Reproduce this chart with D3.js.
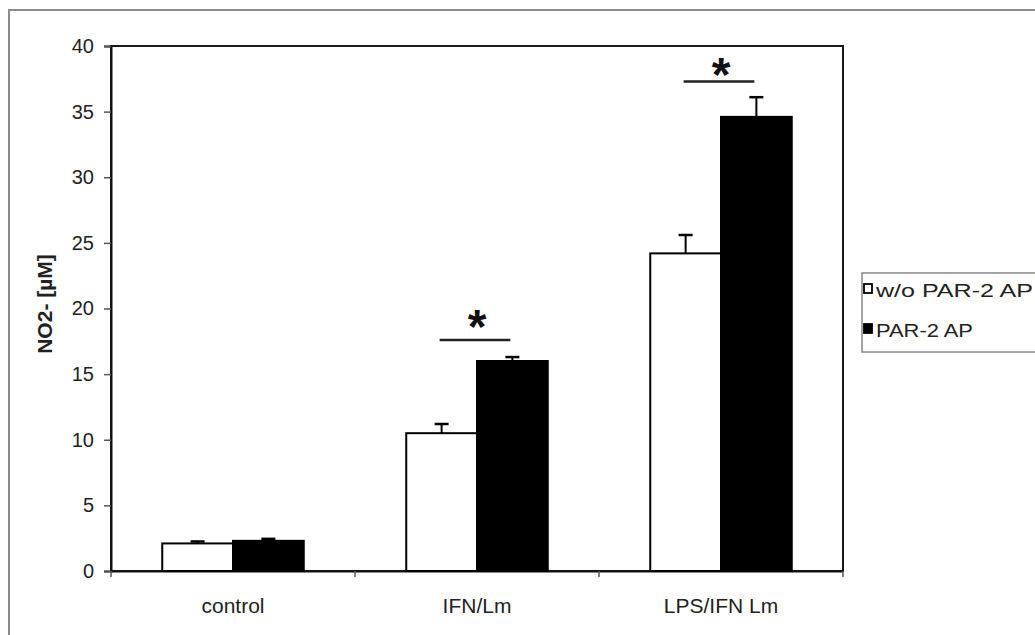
<!DOCTYPE html>
<html><head><meta charset="utf-8">
<script src="https://cdn.jsdelivr.net/npm/d3@7"></script>
<style>body{margin:0;background:#fff}svg{display:block;font-family:"Liberation Sans",Arial,sans-serif}</style>
</head><body>
<script>
const categories = ["control", "IFN/Lm", "LPS/IFN Lm"];
const seriesNames = ["w/o PAR-2 AP", "PAR-2 AP"];
const withoutValues = [2.1, 10.5, 24.2];
const withValues = [2.3, 16.0, 34.6];
const withoutErrors = [0.15, 0.7, 1.4];
const withErrors = [0.15, 0.3, 1.5];
const yTicks = [0, 5, 10, 15, 20, 25, 30, 35, 40];
const sigCategories = ["IFN/Lm", "LPS/IFN Lm"];
const sigLineValues = [17.6, 37.3];
const sigStarValues = [19.4, 38.6];
const sigLabels = ["*", "*"];

const W = 1035, H = 635;
const m = {left: 111, right: 843, top: 46, bottom: 571};
const svg = d3.select("body").append("svg").attr("width", W).attr("height", H);

// outer frame
svg.append("rect").attr("x", 9).attr("y", 10).attr("width", 1100).attr("height", 700)
  .attr("fill", "none").attr("stroke", "#8a8a8a").attr("stroke-width", 2);

const x0 = d3.scaleBand().domain(categories).range([m.left, m.right]).paddingInner(0).paddingOuter(0);
const bw = x0.bandwidth();
const x1 = d3.scaleBand().domain(seriesNames).range([bw * 0.21, bw * 0.79]).paddingInner(0);
const y = d3.scaleLinear().domain([0, 40]).range([m.bottom, m.top]);

// plot area box
svg.append("rect").attr("x", m.left).attr("y", m.top).attr("width", m.right - m.left).attr("height", m.bottom - m.top)
  .attr("fill", "none").attr("stroke", "#1a1a1a").attr("stroke-width", 2);

// y axis
const yAxis = svg.append("g").attr("transform", `translate(${m.left},0)`)
  .call(d3.axisLeft(y).tickValues(yTicks).tickSize(7).tickPadding(10).tickFormat(d3.format("d")));
yAxis.select(".domain").attr("stroke", "#111").attr("stroke-width", 2);
yAxis.selectAll(".tick line").attr("stroke", "#555").attr("stroke-width", 1.5);
yAxis.selectAll(".tick text").attr("font-size", 20).attr("fill", "#222").attr("font-family", "Liberation Sans, Arial, sans-serif");

// x axis
const xAxis = svg.append("g").attr("transform", `translate(0,${m.bottom})`)
  .call(d3.axisBottom(x0).tickSize(0).tickPadding(27));
xAxis.select(".domain").attr("stroke", "#111").attr("stroke-width", 2);
xAxis.selectAll(".tick text").attr("font-size", 21).attr("fill", "#222").attr("font-family", "Liberation Sans, Arial, sans-serif");
// boundary ticks
const bounds = categories.map(c => x0(c)).concat([x0(categories[categories.length - 1]) + bw]);
svg.append("g").selectAll("line").data(bounds).join("line")
  .attr("x1", d => d).attr("x2", d => d).attr("y1", m.bottom).attr("y2", m.bottom + 6)
  .attr("stroke", "#555").attr("stroke-width", 1.5);

// y label
svg.append("text").attr("transform", `translate(52,304) rotate(-90)`)
  .attr("text-anchor", "middle").attr("font-size", 21).attr("font-weight", "bold").attr("fill", "#222")
  .text("NO2- [µM]");

// bars
const rows = categories.map((c, i) => ({c, vals: [
  {s: seriesNames[0], v: withoutValues[i], e: withoutErrors[i], fill: "#fff"},
  {s: seriesNames[1], v: withValues[i], e: withErrors[i], fill: "#000"}
]}));
const groups = svg.append("g").selectAll("g").data(rows).join("g")
  .attr("transform", d => `translate(${x0(d.c)},0)`);
groups.selectAll("rect").data(d => d.vals).join("rect")
  .attr("x", d => x1(d.s)).attr("width", x1.bandwidth())
  .attr("y", d => y(d.v)).attr("height", d => y(0) - y(d.v))
  .attr("fill", d => d.fill).attr("stroke", "#000").attr("stroke-width", 2);
// error bars
groups.selectAll("line.err").data(d => d.vals).join("line").attr("class", "err")
  .attr("x1", d => x1(d.s) + x1.bandwidth() / 2).attr("x2", d => x1(d.s) + x1.bandwidth() / 2)
  .attr("y1", d => y(d.v)).attr("y2", d => y(d.v + d.e)).attr("stroke", "#000").attr("stroke-width", 2);
groups.selectAll("line.cap").data(d => d.vals).join("line").attr("class", "cap")
  .attr("x1", d => x1(d.s) + x1.bandwidth() / 2 - 7).attr("x2", d => x1(d.s) + x1.bandwidth() / 2 + 7)
  .attr("y1", d => y(d.v + d.e)).attr("y2", d => y(d.v + d.e)).attr("stroke", "#000").attr("stroke-width", 2.5);

// significance
const sig = sigCategories.map((c, i) => ({c, lv: sigLineValues[i], sv: sigStarValues[i], t: sigLabels[i]}));
const sg = svg.append("g").selectAll("g").data(sig).join("g").attr("transform", d => `translate(${x0(d.c)},0)`);
sg.append("line")
  .attr("x1", x1(seriesNames[0]) + x1.bandwidth() / 2 - 2).attr("x2", x1(seriesNames[1]) + x1.bandwidth() / 2 - 2)
  .attr("y1", d => y(d.lv)).attr("y2", d => y(d.lv)).attr("stroke", "#222").attr("stroke-width", 2.5);
sg.append("text")
  .attr("x", (x1(seriesNames[0]) + x1(seriesNames[1]) + x1.bandwidth()) / 2)
  .attr("y", d => y(d.sv) + 27).attr("text-anchor", "middle")
  .attr("font-size", 48).attr("font-weight", "bold").attr("fill", "#111").text(d => d.t);

// legend
const lg = svg.append("g");
lg.append("rect").attr("x", 862).attr("y", 273).attr("width", 200).attr("height", 79)
  .attr("fill", "#fff").attr("stroke", "#888").attr("stroke-width", 1.5);
const li = lg.selectAll("g").data(seriesNames).join("g").attr("transform", (d, i) => `translate(0,${i * 40})`);
li.append("rect").attr("x", 864).attr("y", 284).attr("width", 8).attr("height", 9)
  .attr("fill", (d, i) => i === 0 ? "#fff" : "#000").attr("stroke", "#000").attr("stroke-width", 1.8);
li.append("text").attr("x", 876).attr("y", 297).attr("font-size", 19).attr("fill", "#222")
  .attr("textLength", (d, i) => i === 0 ? 157 : 97).attr("lengthAdjust", "spacingAndGlyphs")
  .text(d => d);
</script>
</body></html>
